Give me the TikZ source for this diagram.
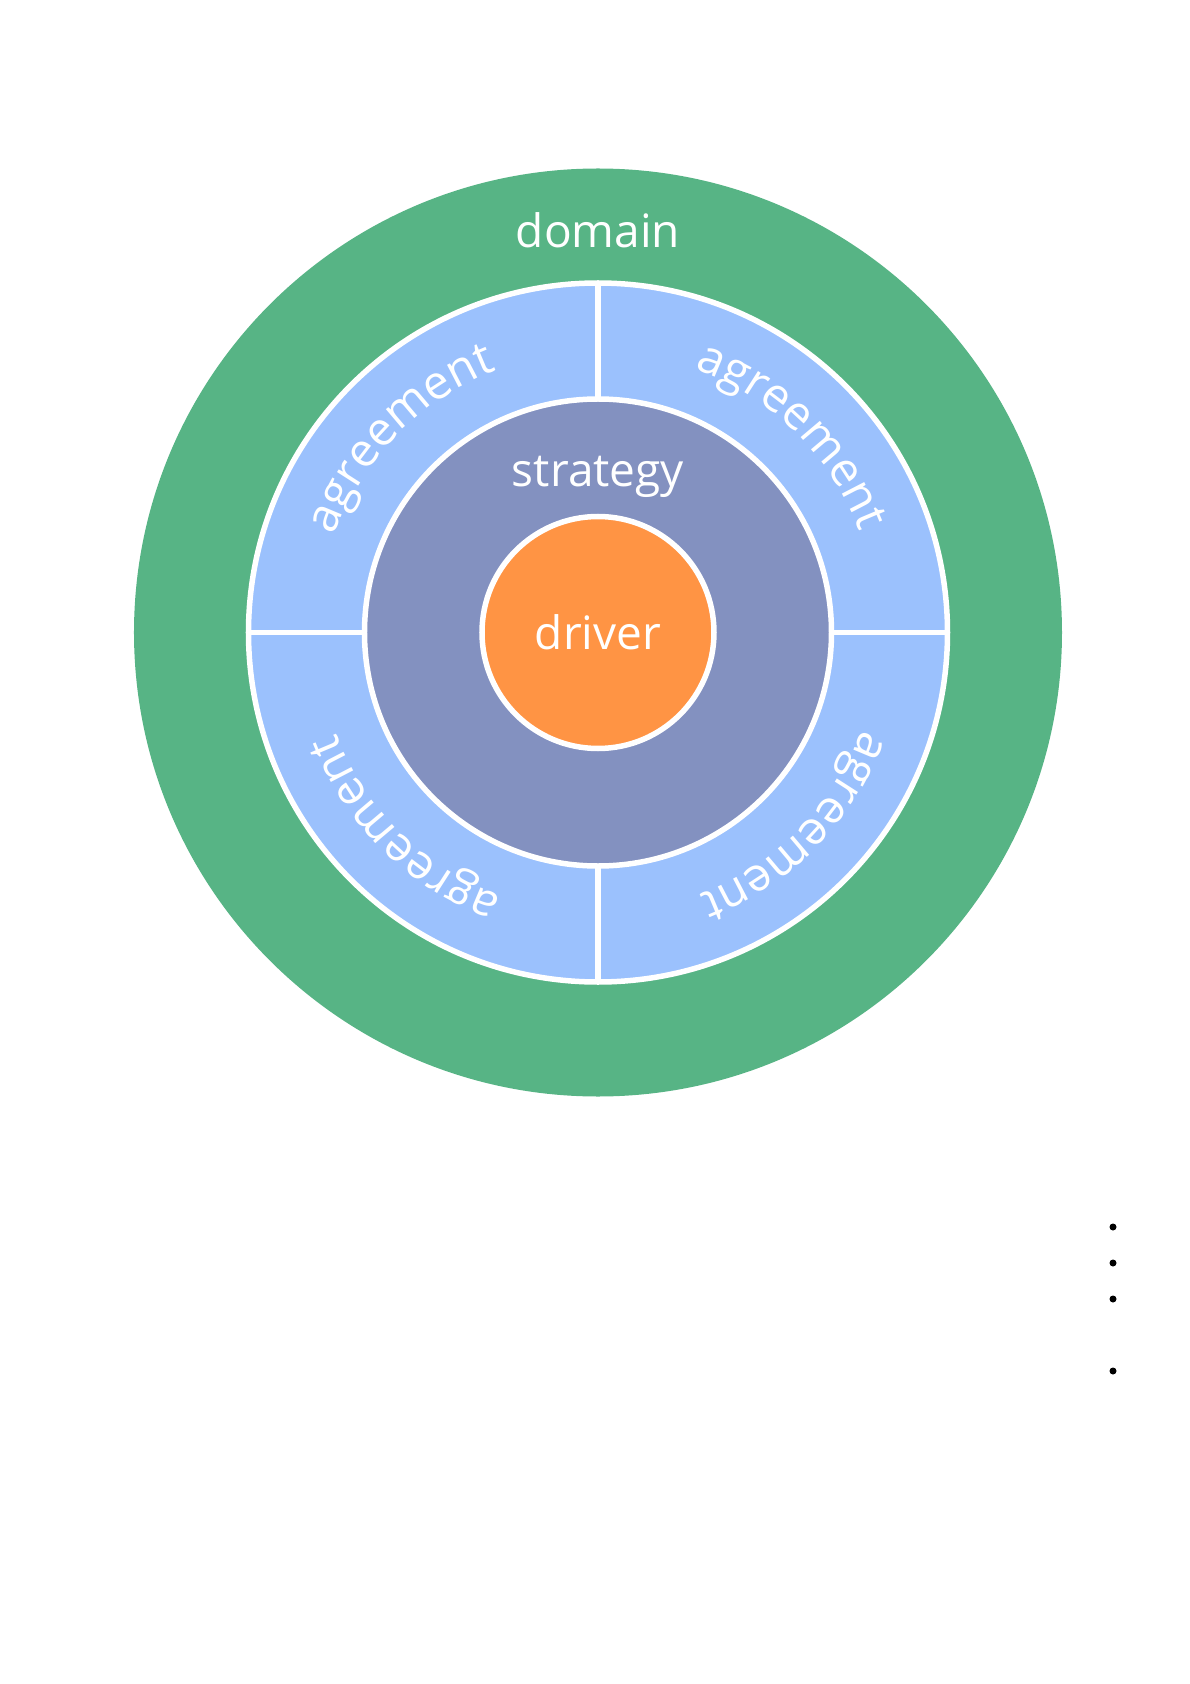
\documentclass[tikz,border=0pt]{standalone}
\usepackage{fontspec}
\setmainfont{Open Sans}
\usetikzlibrary{decorations.text}
\definecolor{domgreen}{HTML}{57B485}
\definecolor{agblue}{HTML}{9BC1FD}
\definecolor{stratblue}{HTML}{8391C0}
\definecolor{drvorange}{HTML}{FF9444}
\newcommand\agfont{\fontsize{47}{50}\selectfont\addfontfeatures{LetterSpace=6}\color{white}}
\tikzset{
  ring/.style={circle, draw=white, line width=5.5pt, inner sep=0pt, outer sep=0pt},
  divider/.style={draw=white, line width=5.5pt},
  label/.style={text=white, font=\fontsize{46}{50}\selectfont, anchor=base, inner sep=0pt},
  bullet/.style={circle, fill=black, inner sep=0pt, minimum size=7pt},
  agtext/.style={decorate, decoration={text along path, text align=center, text={|\agfont|agreement}}}
}
\begin{document}
\begin{tikzpicture}[x=1pt,y=1pt]
\useasboundingbox (-598,632.5) rectangle (592,-1051.5);
\node[circle, fill=domgreen, inner sep=0pt, minimum size=928pt] (domain) at (0,0) {};
\node[ring, fill=agblue, minimum size=699pt] (agreement) at (0,0) {};
\node[ring, fill=stratblue, minimum size=467pt] (strategy) at (0,0) {};
\node[ring, fill=drvorange, minimum size=232pt] (driver) at (0,0) {};
% dividers
\coordinate (dt1) at (0,233.5); \coordinate (dt2) at (0,349.5);
\coordinate (db1) at (0,-233.5); \coordinate (db2) at (0,-349.5);
\coordinate (dl1) at (-233.5,0); \coordinate (dl2) at (-349.5,0);
\coordinate (dr1) at (233.5,0); \coordinate (dr2) at (349.5,0);
\draw[divider] (dt1) -- (dt2);
\draw[divider] (db1) -- (db2);
\draw[divider] (dl1) -- (dl2);
\draw[divider] (dr1) -- (dr2);
% labels
\node[label] (domlabel) at (0,385) {domain};
\node[label] (stratlabel) at (0,146) {strategy};
\node[label] (drvlabel) at (0,-17) {driver};
% curved agreement labels
\path[agtext] (170.5:281) arc[start angle=170.5, end angle=100.5, radius=281];
\path[agtext] (80.5:281) arc[start angle=80.5, end angle=10.5, radius=281];
\path[agtext] (-9.5:281) arc[start angle=-9.5, end angle=-79.5, radius=281];
\path[agtext] (-99.5:281) arc[start angle=-99.5, end angle=-169.5, radius=281];
% bullets
\node[bullet] (b1) at (515,-594.5) {};
\node[bullet] (b2) at (515,-630.5) {};
\node[bullet] (b3) at (515,-666.5) {};
\node[bullet] (b4) at (515,-738.5) {};
\end{tikzpicture}
\end{document}
